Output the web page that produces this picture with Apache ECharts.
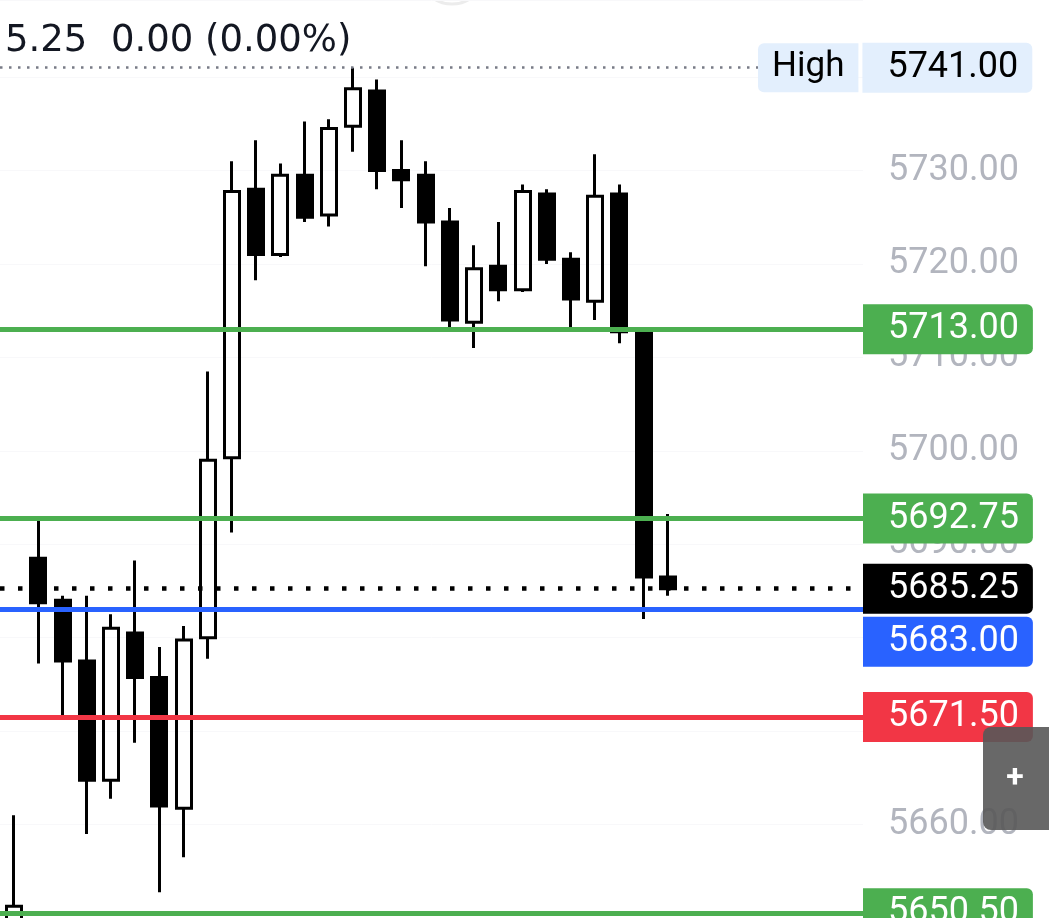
<!DOCTYPE html>
<html>
<head>
<meta charset="utf-8">
<script src="https://cdn.jsdelivr.net/npm/echarts@6/dist/echarts.min.js"></script>
<style>
html,body{margin:0;padding:0;background:#fff;}
#main{width:1049px;height:918px;}
</style>
</head>
<body>
<div id="main"></div>
<script>
// ---- data ----
const opens  = [5649.5, 5688.5, 5684.0, 5677.5, 5664.75, 5680.5, 5675.75, 5661.75, 5680.0, 5699.25, 5728.0, 5721.0, 5729.5, 5725.25, 5734.75, 5738.5, 5730.0, 5729.5, 5724.5, 5713.75, 5719.75, 5717.25, 5727.5, 5720.5, 5716.0, 5727.5, 5713.0, 5686.5];
const closes = [5651.25, 5683.75, 5677.5, 5664.75, 5681.0, 5675.75, 5662.0, 5679.75, 5699.0, 5727.75, 5721.0, 5729.5, 5725.0, 5734.5, 5738.75, 5730.0, 5729.0, 5724.5, 5714.0, 5719.5, 5717.25, 5727.75, 5720.5, 5716.25, 5727.25, 5712.75, 5686.5, 5685.25];
const lows   = [5648.0, 5677.25, 5671.5, 5659.0, 5662.75, 5668.75, 5652.75, 5656.5, 5677.75, 5691.25, 5718.25, 5720.75, 5724.5, 5724.0, 5732.0, 5728.0, 5726.0, 5719.75, 5712.75, 5711.0, 5716.0, 5717.0, 5720.0, 5713.25, 5714.0, 5711.5, 5682.0, 5684.5];
const highs  = [5661.0, 5692.5, 5684.5, 5684.5, 5682.5, 5688.25, 5679.0, 5681.25, 5708.5, 5731.0, 5733.25, 5730.75, 5735.25, 5735.5, 5741.0, 5739.75, 5733.25, 5731.0, 5726.0, 5722.0, 5724.5, 5728.5, 5728.0, 5721.25, 5731.75, 5728.5, 5713.0, 5693.25];
const slotCount = 43; // bar slots across the chart (empty ones to the right)
const categories = Array.from({length: slotCount}, (_, i) => String(i));

const levelPrices = [5713.00, 5692.75, 5683.00, 5671.50, 5650.50];
const levelColors = ['#4caf50', '#4caf50', '#2962ff', '#f23645', '#4caf50'];
const lastPrice = 5685.25;
const highPrice = 5741.00;
const headerText = '5.25  0.00 (0.00%)';
const yMin = 5650, yMax = 5748.25, yStep = 10;

// ---- chart ----
const candleData = categories.map((c, i) => i < opens.length ? [opens[i], closes[i], lows[i], highs[i]] : '-');

const tagStyle = (bg, fg) => ({backgroundColor: bg, color: fg, fontSize: 36, lineHeight: 37, fontFamily: 'Roboto', padding: [7, 14, 7, 25], borderRadius: [0, 6, 6, 0]});

const tagLabel = (bg, fg, shiftDown) => ({
  show: true, position: 'end', distance: 0,
  formatter: p => shiftDown ? '{s| }\n{b|' + Number(p.value).toFixed(2) + '}' : '{b|' + Number(p.value).toFixed(2) + '}',
  rich: {
    s: {height: shiftDown || 1, lineHeight: shiftDown || 1, fontSize: 1},
    b: tagStyle(bg, fg)
  }
});

const labelShift = {5683: 64};

const markData = levelPrices.map((p, i) => ({
  yAxis: p,
  lineStyle: {color: levelColors[i], width: 5, type: 'solid'},
  label: tagLabel(levelColors[i], '#ffffff', labelShift[p] || 0)
}));
markData.push({
  yAxis: lastPrice,
  lineStyle: {color: '#000000', width: 4.5, type: [4.5, 13.5]},
  label: tagLabel('#000000', '#ffffff', 0)
});
markData.push([
  {coord: [0, highPrice],
   lineStyle: {color: '#787b86', width: 2.5, type: [2.5, 6.5]},
   label: {
     show: true, position: 'end', distance: 0,
     formatter: '{h|High}{g| }{p|' + highPrice.toFixed(2) + '}',
     rich: {
       h: {backgroundColor: '#e3effd', color: '#000', fontSize: 35, lineHeight: 37, fontFamily: 'Roboto', padding: [7, 14, 7, 14], borderRadius: [6, 0, 0, 6]},
       g: {width: 4, fontSize: 10, lineHeight: 51},
       p: tagStyle('#e3effd', '#000')
     }
   }},
  {coord: [758 / 863, highPrice]}
]);

const chart = echarts.init(document.getElementById('main'), null, {renderer: 'canvas'});
chart.setOption({
  animation: false,
  backgroundColor: '#ffffff',
  textStyle: {fontFamily: 'Roboto'},
  grid: [
    {left: 2, right: 6, top: 0, bottom: 0, containLabel: false, outerBoundsMode: 'none'},
    {left: 0, right: 1049 - 863, top: 0, bottom: 0, containLabel: false, outerBoundsMode: 'none'}
  ],
  xAxis: [
    {type: 'category', gridIndex: 0, data: categories, boundaryGap: true, show: false},
    {type: 'value', gridIndex: 1, min: 0, max: 1, show: false}
  ],
  yAxis: [
    {type: 'value', gridIndex: 0, min: yMin, max: yMax, show: false},
    {type: 'value', gridIndex: 1, min: yMin, max: yMax, interval: yStep, position: 'right',
     axisLine: {show: false}, axisTick: {show: false},
     splitLine: {show: true, lineStyle: {color: '#f8f8fa', width: 1}},
     axisLabel: {
       margin: 25, color: '#b2b5be', fontSize: 36, fontFamily: 'Roboto',
       padding: [9, 0, 0, 0],
       showMaxLabel: false,
       formatter: v => (Math.abs(v / yStep - Math.round(v / yStep)) < 1e-6) ? v.toFixed(2) : ''
     }}
  ],
  series: [
    {
      type: 'line', xAxisIndex: 1, yAxisIndex: 1, z: 2,
      data: [[0.5, 5700]], symbol: 'none', showSymbol: false,
      lineStyle: {opacity: 0}, silent: true,
      markLine: {silent: true, symbol: ['none', 'none'], animation: false, data: markData}
    },
    {
      type: 'candlestick', xAxisIndex: 0, yAxisIndex: 0, z: 3,
      data: candleData, barWidth: 15.5,
      itemStyle: {
        color: 'rgba(255,255,255,0)', color0: '#000000',
        borderColor: '#000000', borderColor0: '#000000', borderWidth: 3
      }
    }
  ],
  graphic: [
    {type: 'circle', shape: {cx: 452, cy: -30, r: 34}, style: {fill: 'none', stroke: '#ececec', lineWidth: 3}, silent: true},
    {type: 'text', left: 5, top: 23, style: {text: headerText, font: '37px "DejaVu Sans"', fill: '#131722'}, z: 10},
    {type: 'rect', shape: {x: 983, y: 727, width: 70, height: 103, r: [8, 0, 0, 8]}, style: {fill: 'rgba(88,88,88,0.9)'}, z: 20},
    {type: 'text', x: 1015, y: 779, style: {text: '+', font: 'bold 32px Roboto', fill: '#ffffff', align: 'center', verticalAlign: 'middle'}, z: 21}
  ]
});
</script>
</body>
</html>
